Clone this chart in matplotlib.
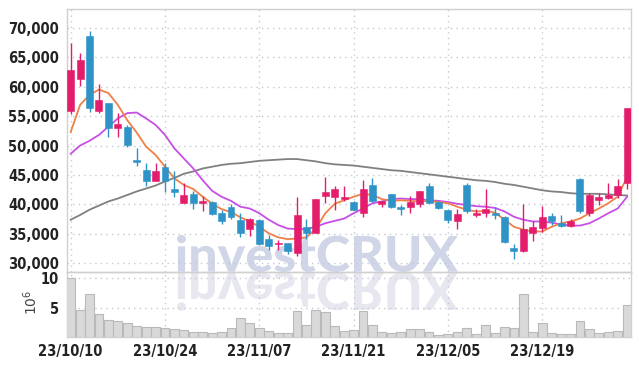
import matplotlib
matplotlib.use("Agg")
import matplotlib.pyplot as plt
import numpy as np
from matplotlib.textpath import TextPath
from matplotlib.patches import PathPatch
from matplotlib.font_manager import FontProperties, findfont
from matplotlib.ticker import FuncFormatter
import matplotlib.transforms as mtrans

# ---------------- data ----------------
dates = ["23/10/10", "23/10/11", "23/10/12", "23/10/13", "23/10/16", "23/10/17", "23/10/18",
         "23/10/19", "23/10/20", "23/10/23", "23/10/24", "23/10/25", "23/10/26", "23/10/27",
         "23/10/30", "23/10/31", "23/11/01", "23/11/02", "23/11/03", "23/11/06", "23/11/07",
         "23/11/08", "23/11/09", "23/11/10", "23/11/13", "23/11/14", "23/11/15", "23/11/16",
         "23/11/17", "23/11/20", "23/11/21", "23/11/22", "23/11/23", "23/11/24", "23/11/27",
         "23/11/28", "23/11/29", "23/11/30", "23/12/01", "23/12/04", "23/12/05", "23/12/06",
         "23/12/07", "23/12/08", "23/12/11", "23/12/12", "23/12/13", "23/12/14", "23/12/15",
         "23/12/18", "23/12/19", "23/12/20", "23/12/21", "23/12/22", "23/12/26", "23/12/27",
         "23/12/28", "24/01/02", "24/01/03", "24/01/04"]

opens = [55900, 61300, 68600, 55800, 57200, 52900, 53200, 47500, 45800, 44000,
         46300, 42700, 40300, 41700, 40300, 40400, 38500, 39500, 37400, 35900,
         37400, 34200, 33300, 33400, 31800, 36100, 35200, 41500, 41200, 41000,
         40400, 38500, 43300, 40000, 41700, 39600, 39500, 40100, 43100, 40400,
         39100, 37200, 43300, 38200, 38600, 38600, 37800, 32600, 32100, 35100,
         36000, 38000, 36800, 36400, 44300, 38500, 40700, 41100, 41600, 43700]
highs = [67400, 65700, 69500, 60400, 57300, 55500, 53500, 49500, 47000, 47100,
         47000, 45600, 43700, 42200, 41400, 40500, 39100, 40100, 38600, 37700,
         37500, 34800, 34000, 33500, 41200, 37500, 41000, 44700, 43100, 43200,
         40500, 44100, 44400, 40600, 41800, 39900, 41500, 42300, 43600, 40500,
         39200, 39300, 43600, 39200, 42600, 39500, 38000, 33300, 40100, 37100,
         39700, 38500, 38200, 37500, 44400, 42000, 42000, 43700, 44300, 56300]
lows = [55400, 60100, 55700, 55600, 51500, 51400, 49700, 46500, 43200, 43900,
        42100, 41300, 40200, 39300, 38800, 38200, 36600, 37500, 34500, 34600,
        33100, 32300, 32300, 31600, 31200, 34200, 35100, 40300, 39100, 40500,
        39000, 37900, 40400, 39500, 39400, 38200, 38500, 39600, 40200, 39300,
        36900, 35800, 38500, 37900, 37900, 37600, 33500, 30700, 32000, 33800,
        35300, 36500, 36200, 36100, 38600, 38000, 39900, 41000, 41100, 42600]
closes = [62800, 64500, 56300, 57700, 52900, 53700, 50100, 47200, 44000, 45700,
          43900, 42100, 41600, 40300, 40600, 38400, 37100, 37900, 35100, 37600,
          33300, 32900, 33500, 32100, 38200, 35100, 40900, 42100, 42700, 41300,
          39100, 42700, 40500, 40500, 39500, 39300, 40400, 42200, 40300, 39400,
          37400, 38400, 38900, 38600, 39300, 38200, 33700, 32100, 35800, 36100,
          37800, 37200, 36400, 37100, 38900, 41600, 41200, 41600, 43200, 56300]

# volume, in millions of shares
volumes = [10.0, 4.6, 7.3, 3.9, 2.9, 2.75, 2.35, 1.9, 1.7, 1.7,
           1.5, 1.4, 1.25, 0.9, 0.9, 0.75, 0.9, 1.5, 3.2, 2.35,
           1.5, 1.05, 0.75, 0.75, 4.45, 2.1, 4.6, 4.3, 1.9, 1.05,
           1.15, 4.45, 2.0, 0.9, 0.65, 0.9, 1.4, 1.4, 0.9, 0.35,
           0.55, 0.9, 1.5, 0.55, 2.0, 0.75, 1.7, 1.5, 7.25, 0.9,
           2.5, 0.75, 0.55, 0.55, 2.7, 1.4, 0.75, 0.9, 1.05, 5.45]

ma_short = [52300, 56900, 58600, 59500, 58900, 56900, 54300, 52200, 49800, 48400,
            46400, 44400, 43300, 42600, 41300, 40100, 39200, 38700, 37800, 37100,
            36200, 35100, 34400, 34100, 34200, 34400, 35900, 38500, 40100, 40700,
            41300, 41800, 41600, 40900, 40600, 40700, 40600, 40500, 40600, 40400,
            40200, 39600, 39100, 38800, 38900, 38600, 37400, 36200, 35700, 35400,
            35400, 36200, 36800, 37100, 37600, 38500, 39300, 40200, 41300, 44700]
ma_mid = [48600, 50000, 50800, 51800, 53200, 54600, 55500, 55600, 54600, 53500,
          51800, 49500, 47800, 46100, 44100, 42300, 41300, 40600, 39600, 39300,
          38500, 37400, 36500, 35900, 35800, 35800, 36200, 36800, 37200, 37600,
          38500, 39300, 40200, 40500, 40900, 41000, 40900, 40900, 40700, 40600,
          40400, 40100, 39900, 39700, 39600, 39400, 38800, 37900, 37400, 37100,
          37100, 36900, 36600, 36400, 36400, 36800, 37600, 38500, 39300, 41300]
ma_long = [37400, 38200, 39100, 39800, 40500, 41000, 41600, 42200, 42700, 43200,
           43900, 44500, 45200, 45600, 46100, 46400, 46700, 46900, 47000, 47200,
           47400, 47500, 47600, 47700, 47700, 47500, 47300, 47000, 46800, 46700,
           46600, 46400, 46200, 46000, 45800, 45700, 45500, 45300, 45100, 44900,
           44700, 44500, 44300, 44100, 44000, 43800, 43500, 43300, 43000, 42700,
           42400, 42200, 42100, 41900, 41800, 41800, 41800, 41700, 41600, 41500]

price_ticks = [30000, 35000, 40000, 45000, 50000, 55000, 60000, 65000, 70000]
volume_ticks = [5, 10]
date_tick_labels = ["23/10/10", "23/10/24", "23/11/07", "23/11/21", "23/12/05", "23/12/19"]

# ---------------- style ----------------
UP = "#e31c6c"
DOWN = "#2e93c6"
GRID = "#c5c9d6"
SPINE = "#d0d0d0"
TXT = "#222222"
tick_fp = FontProperties(family="DejaVu Sans", stretch="condensed", weight="bold", size=10.5)

W, H = 639, 366
fig = plt.figure(figsize=(W / 100, H / 100), dpi=100)
fig.patch.set_facecolor("white")

# background axes in pixel coords for watermark
bg = fig.add_axes([0, 0, 1, 1], zorder=0)
bg.set_xlim(0, W)
bg.set_ylim(H, 0)
bg.axis("off")

fp = FontProperties(family=["Lato", "DejaVu Sans"], weight="black")
tp = TextPath((0, 0), "investCRUX", size=100, prop=fp)
ext = tp.get_extents()
x0w, x1w = 177, 458
ytop, ybase = 235, 272
sx = (x1w - x0w) / ext.width
sy = (ybase - ytop) / ext.height
tr_main = mtrans.Affine2D().translate(-ext.x0, -ext.y0).scale(sx, -sy).translate(x0w, ybase)
tr_ref = mtrans.Affine2D().translate(-ext.x0, -ext.y0).scale(sx, sy * 1.05).translate(x0w, ybase)
bg.add_patch(PathPatch(tr_main.transform_path(tp), facecolor="#d0d6e7", edgecolor="none"))
bg.add_patch(PathPatch(tr_ref.transform_path(tp), facecolor="#e7e7ef", edgecolor="none"))

L, R = 67 / W, 630.7 / W
top_p, bot_p = 9.3, 272.3
bot_v = 337.3
axp = fig.add_axes([L, 1 - bot_p / H, R - L, (bot_p - top_p) / H], zorder=2)
axv = fig.add_axes([L, 1 - bot_v / H, R - L, (bot_v - bot_p) / H], zorder=1, sharex=axp)
for a in (axp, axv):
    a.set_facecolor("none")
    for s in a.spines.values():
        s.set_color(SPINE)
        s.set_linewidth(1.0)

x = np.arange(len(dates))

# moving average lines (under candles)
axp.plot(x, ma_long, color="#808080", lw=1.3, zorder=2)
axp.plot(x, ma_mid, color="#c84fe6", lw=1.3, zorder=2)
axp.plot(x, ma_short, color="#ef8048", lw=1.3, zorder=2)

# candles
for i in range(len(x)):
    o, h, l, c = opens[i], highs[i], lows[i], closes[i]
    col = UP if c >= o else DOWN
    axp.vlines(x[i], l, h, color=col, lw=1.0, zorder=3)
    bottom = min(o, c)
    height = max(abs(c - o), 90)
    axp.bar(x[i], height, bottom=bottom, width=0.74, color=col, edgecolor=col,
            linewidth=0.4, zorder=4)

axp.set_ylim(28470, 73130)
axp.set_xlim(-0.39, 59.38)
axp.set_yticks(price_ticks)
axp.yaxis.set_major_formatter(FuncFormatter(lambda v, p: f"{int(v):,}"))
tick_pos = [dates.index(d) for d in date_tick_labels]
axp.set_xticks(tick_pos)
axp.tick_params(axis="x", labelbottom=False, length=0)
axp.tick_params(axis="y", length=0, pad=6, labelcolor=TXT)
for lab in axp.get_yticklabels():
    lab.set_fontproperties(tick_fp)
axp.grid(True, color=GRID, linestyle=(0, (1, 3)), linewidth=1.0, zorder=1)

# volume
axv.bar(x, volumes, width=0.94, color="#d9d9d9", edgecolor="#b9b9b9", linewidth=0.8, zorder=3)
axv.set_ylim(0, 10.98)
axv.set_yticks(volume_ticks)
axv.tick_params(axis="both", length=0, labelcolor=TXT)
axv.tick_params(axis="y", pad=6)
axv.tick_params(axis="x", pad=5)
axv.set_xticks(tick_pos)
axv.set_xticklabels(date_tick_labels)
for lab in axv.get_yticklabels() + axv.get_xticklabels():
    lab.set_fontproperties(tick_fp)
axv.grid(True, color=GRID, linestyle=(0, (1, 3)), linewidth=1.0, zorder=1)

fig.text(31 / W, 1 - 302 / H, r"$10^6$", rotation=90, ha="center", va="center",
         fontsize=10, color="#444444")

fig.savefig("out.png", dpi=100, facecolor="white")
